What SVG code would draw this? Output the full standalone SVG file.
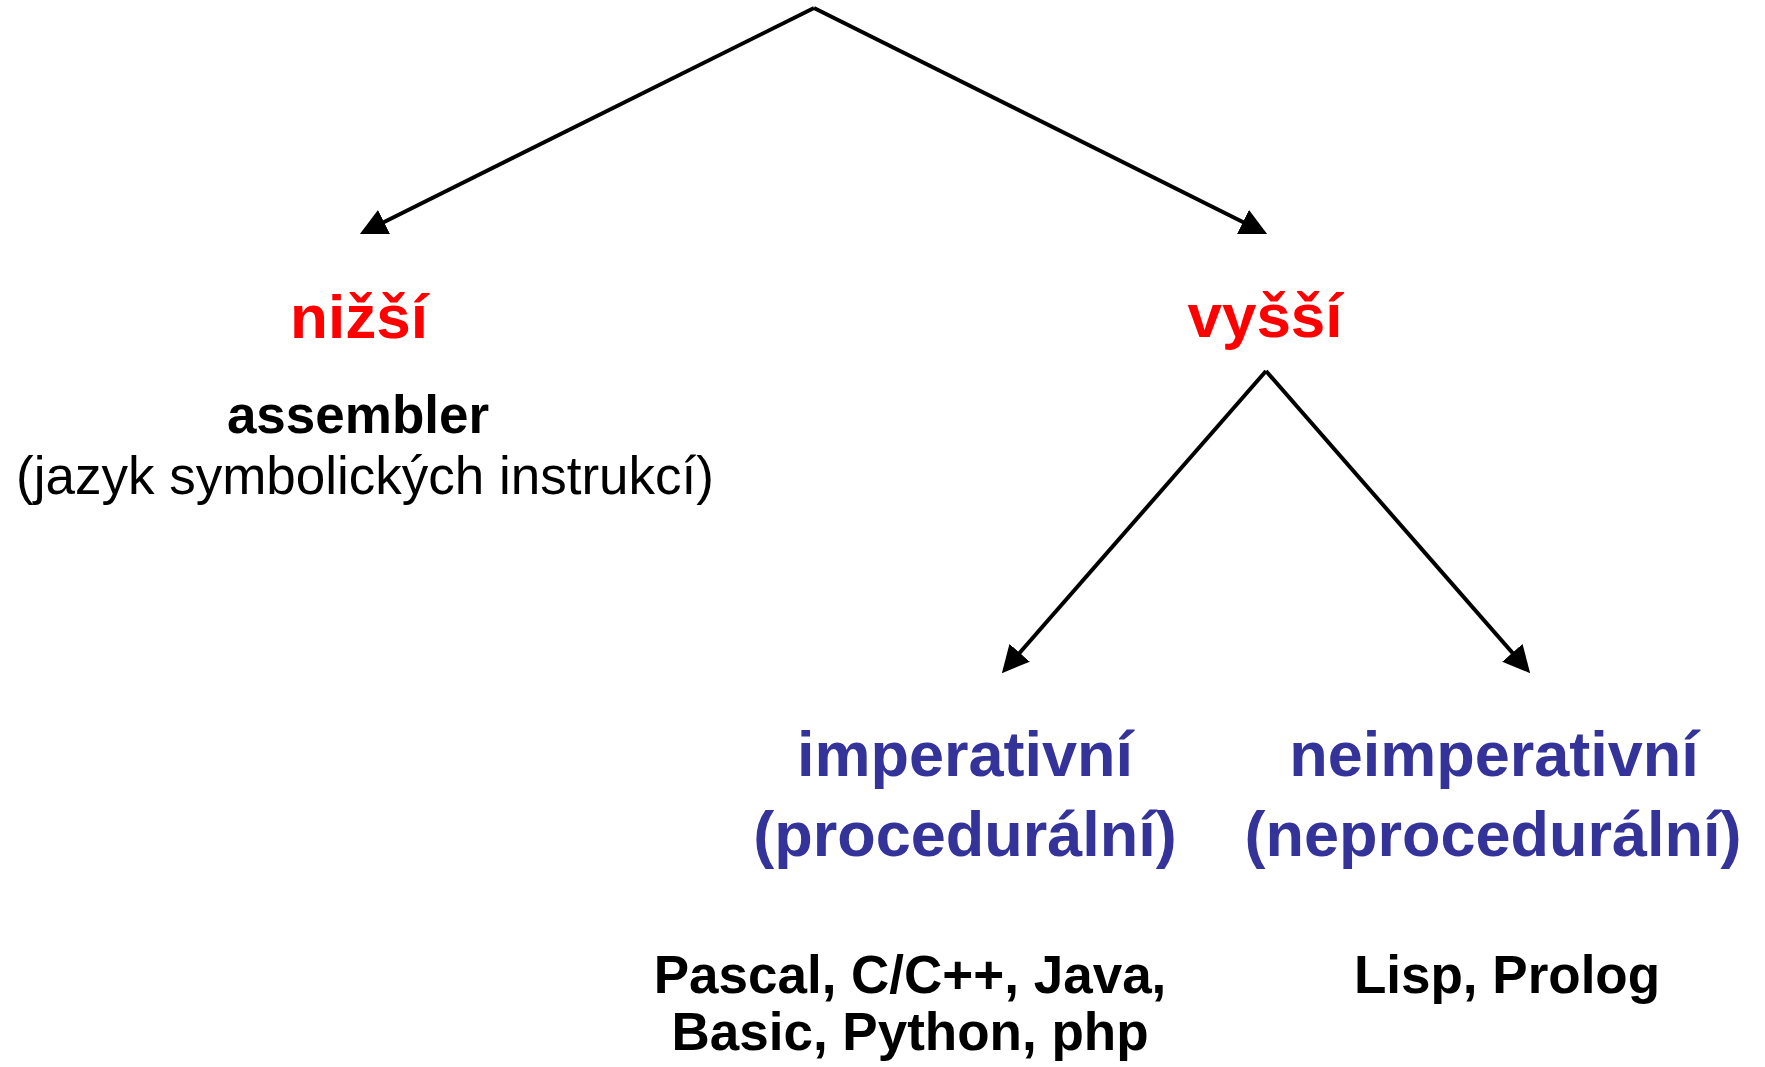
<svg xmlns="http://www.w3.org/2000/svg" width="1765" height="1067" viewBox="0 0 1765 1067">
<style>
text{font-family:"Liberation Sans",Arial,sans-serif;text-anchor:middle}
.red{fill:#FF0000;font-weight:bold;font-size:62px}
.blue{fill:#333399;font-weight:bold;font-size:63px}
.bold{fill:#000;font-weight:bold;font-size:53px}
.reg{fill:#000;font-size:53px}
.conn{stroke:#000;stroke-width:4;fill:none;marker-end:url(#arrow)}
</style>
<defs>
<marker id="arrow" markerUnits="userSpaceOnUse" markerWidth="27" markerHeight="27" viewBox="0 0 26 26" refX="22" refY="13" orient="auto">
<path d="M0,0 L26,13 L0,26 z" fill="#000"/>
</marker>
</defs>
<rect width="1765" height="1067" fill="#fff"/>
<g id="connectors">
<line class="conn" x1="814" y1="8" x2="363.6" y2="232.2"/>
<line class="conn" x1="814" y1="8" x2="1263.4" y2="232.2"/>
<line class="conn" x1="1266" y1="371" x2="1004.6" y2="670"/>
<line class="conn" x1="1266" y1="371" x2="1527.4" y2="670"/>
</g>
<g id="nizsi">
<text class="red" x="359" y="338">nižší</text>
<text class="bold" x="358" y="433">assembler</text>
<text class="reg" x="365" y="494">(jazyk symbolických instrukcí)</text>
</g>
<g id="vyssi">
<text class="red" x="1265" y="337">vyšší</text>
</g>
<g id="imperativni">
<text class="blue" x="965" y="776">imperativní</text>
<text class="blue" x="965" y="856">(procedurální)</text>
</g>
<g id="neimperativni">
<text class="blue" x="1494" y="776">neimperativní</text>
<text class="blue" x="1493" y="856">(neprocedurální)</text>
</g>
<g id="imperativni-examples">
<text class="bold" x="910" y="993">Pascal, C/C++, Java,</text>
<text class="bold" x="910" y="1050">Basic, Python, php</text>
</g>
<g id="neimperativni-examples">
<text class="bold" x="1507" y="993">Lisp, Prolog</text>
</g>
</svg>
